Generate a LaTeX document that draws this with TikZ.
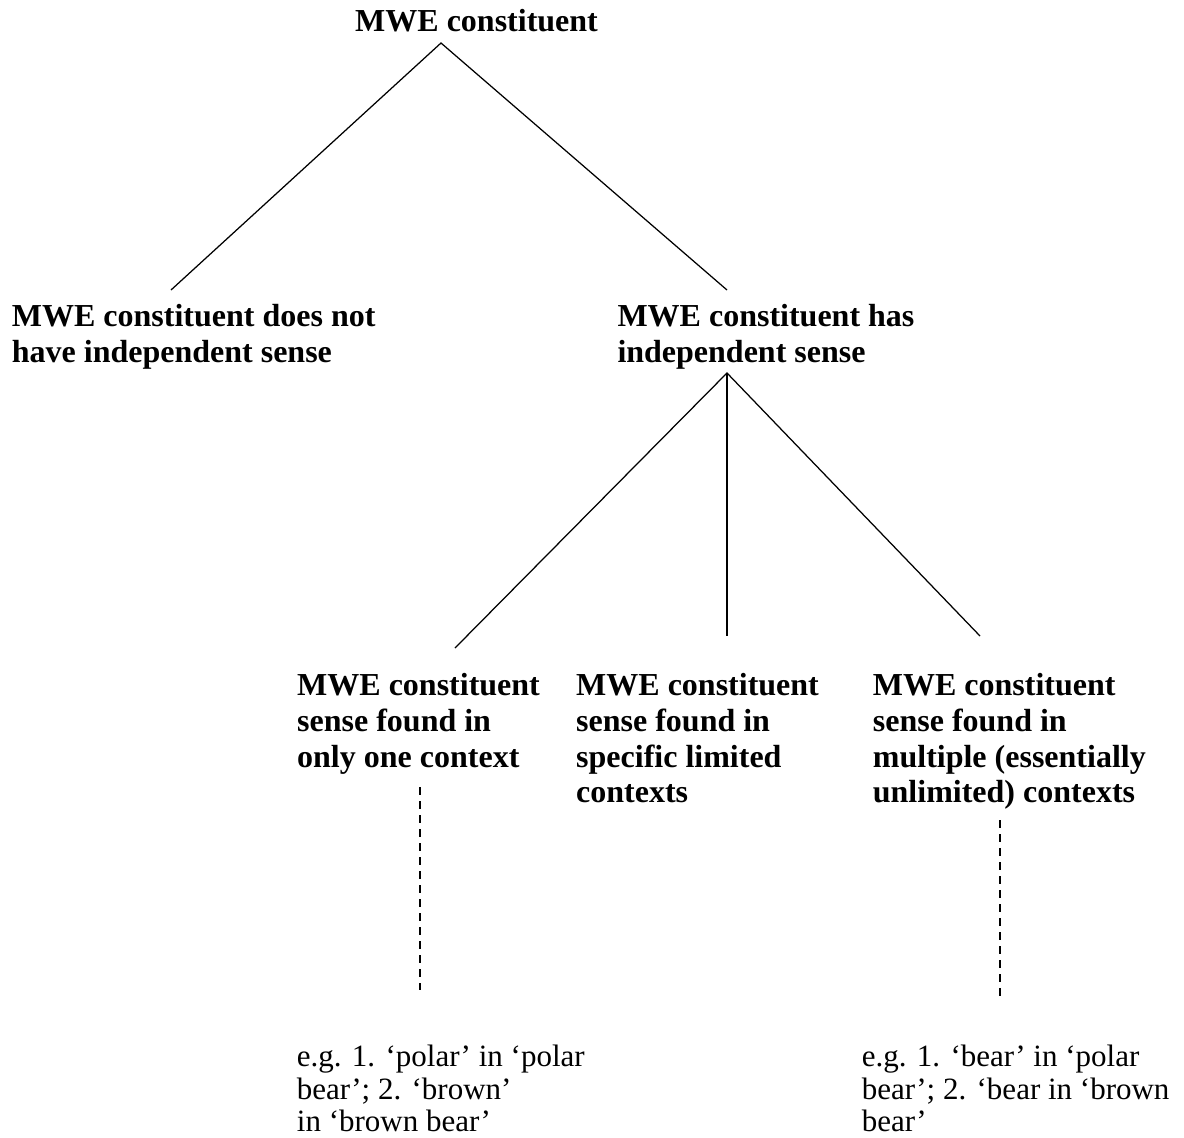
\documentclass[tikz,border=0pt]{standalone}
\usepackage{fontspec}
\setmainfont{Liberation Serif}
\begin{document}
\begin{tikzpicture}[x=1pt,y=-1pt,
  heading/.style={anchor=north west,inner sep=0pt,align=left,
    font=\fontsize{32}{35.7}\selectfont\bfseries},
  example/.style={anchor=north west,inner sep=0pt,align=left,
    font=\fontsize{31}{32.5}\selectfont},
  branch/.style={line width=1.25pt},
  hint/.style={line width=1.25pt,dash pattern=on 8pt off 6pt}]
\useasboundingbox (0,0) rectangle (1184,1138);
% first line of every label gets a fixed ascent so its baseline sits a known distance below the node top
\newcommand{\bstrut}{\rule{0pt}{24pt}}
\newcommand{\rstrut}{\rule{0pt}{23pt}}

% labels (y = first baseline - ascent)
\node[heading] (root)   at (355,7.7)     {\bstrut MWE constituent};
\node[heading] (nosense) at (11.7,302.7) {\bstrut MWE constituent does not\\have independent sense};
\node[heading] (sense)  at (617.3,302.7) {\bstrut MWE constituent has\\independent sense};
\node[heading] (one)    at (297,671.5)   {\bstrut MWE constituent\\sense found in\\only one context};
\node[heading] (limited) at (576,671.5)  {\bstrut MWE constituent\\sense found in\\specific limited\\contexts};
\node[heading] (multi)  at (872.7,671.5) {\bstrut MWE constituent\\sense found in\\multiple (essentially\\unlimited) contexts};
\node[example] (exone)  at (296.7,1043.7) {\rstrut e.g. 1. ‘polar’ in ‘polar\\bear’; 2. ‘brown’\\in ‘brown bear’};
\node[example] (exmulti) at (861.7,1043.7) {\rstrut e.g. 1. ‘bear’ in ‘polar\\bear’; 2. ‘bear in ‘brown\\bear’};

% branch points and line ends
\coordinate (rootjoin)  at (441,43);
\coordinate (nosenseend) at (171,290);
\coordinate (senseend)  at (727,290);
\coordinate (sensejoin) at (727,373);
\coordinate (oneend)    at (455,648);
\coordinate (limitedend) at (727,636);
\coordinate (multiend)  at (980,636);
\coordinate (onedot)    at (420,787);
\coordinate (exonedot)  at (420,990);
\coordinate (multidot)  at (1000,820);
\coordinate (exmultidot) at (1000,1000);

\draw[branch] (nosenseend) -- (rootjoin) -- (senseend);
\draw[branch] (oneend) -- (sensejoin) -- (multiend);
\draw[branch] (sensejoin) -- (limitedend);
\draw[hint] (onedot) -- (exonedot);
\draw[hint] (multidot) -- (exmultidot);
\end{tikzpicture}
\end{document}
